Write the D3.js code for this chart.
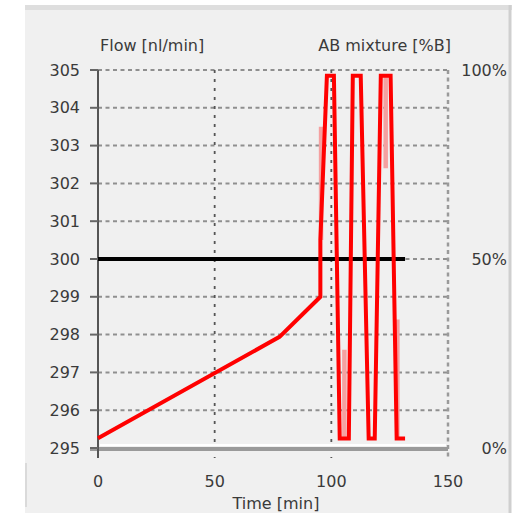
<!DOCTYPE html>
<html>
<head>
<meta charset="utf-8">
<script src="https://cdn.jsdelivr.net/npm/d3@7"></script>
<style>
  html, body { margin: 0; padding: 0; background: #ffffff; }
  svg { display: block; }
  text { font-family: "DejaVu Sans", "Liberation Sans", sans-serif; fill: #3a3a3a; }
</style>
</head>
<body>
<script>
// ---- data ----
const flowTicks = [295, 296, 297, 298, 299, 300, 301, 302, 303, 304, 305];
const mixTicks = [0, 50, 100];
const mixTickLabels = ["0%", "50%", "100%"];
const timeTicks = [0, 50, 100, 150];

// Flow setpoint (left axis)
const flowTime = [0, 131.6];
const flowValues = [300, 300];

// AB mixture %B (right axis)
const mixTime = [0, 77.8, 95.3, 95.3, 98.1, 101.1, 103.6, 107.5, 109.2, 112.6, 116.0, 118.6, 121.2, 125.4, 128.0, 131.6];
const mixValues = [2.6, 29.4, 40, 55, 98.5, 98.5, 2.5, 2.5, 98.5, 98.5, 2.5, 2.5, 98.5, 98.5, 2.5, 2.5];

// faint trace segments (null = gap)
const traceTime = [95.6, 95.6, null, 105.6, 105.6, null, 123.3, 123.3, null, 128.3, 128.3];
const traceValues = [55, 85, null, 2.5, 26, null, 98.5, 74, null, 34, 2.5];

// ---- drawing ----
const W = 516, H = 513;
const svg = d3.select("body").append("svg").attr("width", W).attr("height", H);

// panel
svg.append("rect").attr("x", 25).attr("y", 5).attr("width", 485).attr("height", 508).attr("fill", "#f0f0f0");
svg.append("line").attr("x1", 25).attr("x2", 512).attr("y1", 7.5).attr("y2", 7.5).attr("stroke", "#dedede").attr("stroke-width", 5);
svg.append("line").attr("x1", 510).attr("x2", 510).attr("y1", 5).attr("y2", 513).attr("stroke", "#cfcfcf").attr("stroke-width", 3);
svg.append("line").attr("x1", 26).attr("x2", 26).attr("y1", 463).attr("y2", 507).attr("stroke", "#dadada").attr("stroke-width", 2);

const x = d3.scaleLinear().domain([0, 150]).range([98, 448]);
const yL = d3.scaleLinear().domain([295, 305]).range([448, 70]);
const yR = d3.scaleLinear().domain([0, 100]).range([448, 70]);

// horizontal grid (dotted)
svg.append("g").selectAll("line").data(flowTicks.filter(d => d !== 295)).join("line")
  .attr("x1", x(0)).attr("x2", x(150))
  .attr("y1", d => yL(d)).attr("y2", d => yL(d))
  .attr("stroke", "#8f8f8f").attr("stroke-width", 2).attr("stroke-dasharray", "4,3.5");

// vertical grid (dashed)
svg.append("g").selectAll("line").data(timeTicks.filter(d => d !== 0)).join("line")
  .attr("x1", d => x(d)).attr("x2", d => x(d))
  .attr("y1", yL(305)).attr("y2", 458)
  .attr("stroke", d => d === 150 ? "#9a9a9a" : "#555")
  .attr("stroke-width", d => d === 150 ? 2.5 : 1.8)
  .attr("stroke-dasharray", d => d === 150 ? "4,3.5" : "3,6");

// bottom axis line
svg.append("line").attr("x1", x(0) - 8).attr("x2", x(150)).attr("y1", yL(295) + 1).attr("y2", yL(295) + 1)
  .attr("stroke", "#9a9a9a").attr("stroke-width", 4);
svg.append("line").attr("x1", x(0) + 2).attr("x2", x(150) - 2).attr("y1", yL(295) - 3).attr("y2", yL(295) - 3)
  .attr("stroke", "#ffffff").attr("stroke-width", 2);

// left axis
svg.append("line").attr("x1", x(0)).attr("x2", x(0)).attr("y1", yL(305)).attr("y2", 458)
  .attr("stroke", "#555").attr("stroke-width", 2);
svg.append("g").selectAll("line").data(flowTicks).join("line")
  .attr("x1", x(0) - 8).attr("x2", x(0))
  .attr("y1", d => yL(d)).attr("y2", d => yL(d))
  .attr("stroke", "#666").attr("stroke-width", 2);

// tick labels
svg.append("g").selectAll("text").data(flowTicks).join("text")
  .attr("x", 80).attr("y", d => yL(d)).attr("dy", "0.35em")
  .attr("text-anchor", "end").attr("font-size", 16).text(d => d);
svg.append("g").selectAll("text").data(mixTicks).join("text")
  .attr("x", 507).attr("y", d => yR(d)).attr("dy", "0.35em")
  .attr("text-anchor", "end").attr("font-size", 16).text((d, i) => mixTickLabels[i]);
svg.append("g").selectAll("text").data(timeTicks).join("text")
  .attr("x", d => x(d)).attr("y", 487)
  .attr("text-anchor", "middle").attr("font-size", 16).text(d => d);

// titles
svg.append("text").attr("x", 100).attr("y", 51).attr("font-size", 16).text("Flow [nl/min]");
svg.append("text").attr("x", 451).attr("y", 51).attr("text-anchor", "end").attr("font-size", 16).text("AB mixture [%B]");
svg.append("text").attr("x", 276).attr("y", 509).attr("text-anchor", "middle").attr("font-size", 16).text("Time [min]");

// faint trace
const traceLine = d3.line()
  .defined((d, i) => traceTime[i] !== null)
  .x((d, i) => x(traceTime[i])).y((d, i) => yR(traceValues[i]));
svg.append("path").attr("d", traceLine(traceTime))
  .attr("fill", "none").attr("stroke", "#f5a0a0").attr("stroke-width", 4.5);

// flow line
const flowLine = d3.line().x((d, i) => x(flowTime[i])).y((d, i) => yL(flowValues[i]));
svg.append("path").attr("d", flowLine(flowTime))
  .attr("fill", "none").attr("stroke", "#000").attr("stroke-width", 4);

// mixture line
const mixLine = d3.line().x((d, i) => x(mixTime[i])).y((d, i) => yR(mixValues[i]));
svg.append("path").attr("d", mixLine(mixTime))
  .attr("fill", "none").attr("stroke", "#ff0000").attr("stroke-width", 4)
  .attr("stroke-linejoin", "miter");
</script>
</body>
</html>
